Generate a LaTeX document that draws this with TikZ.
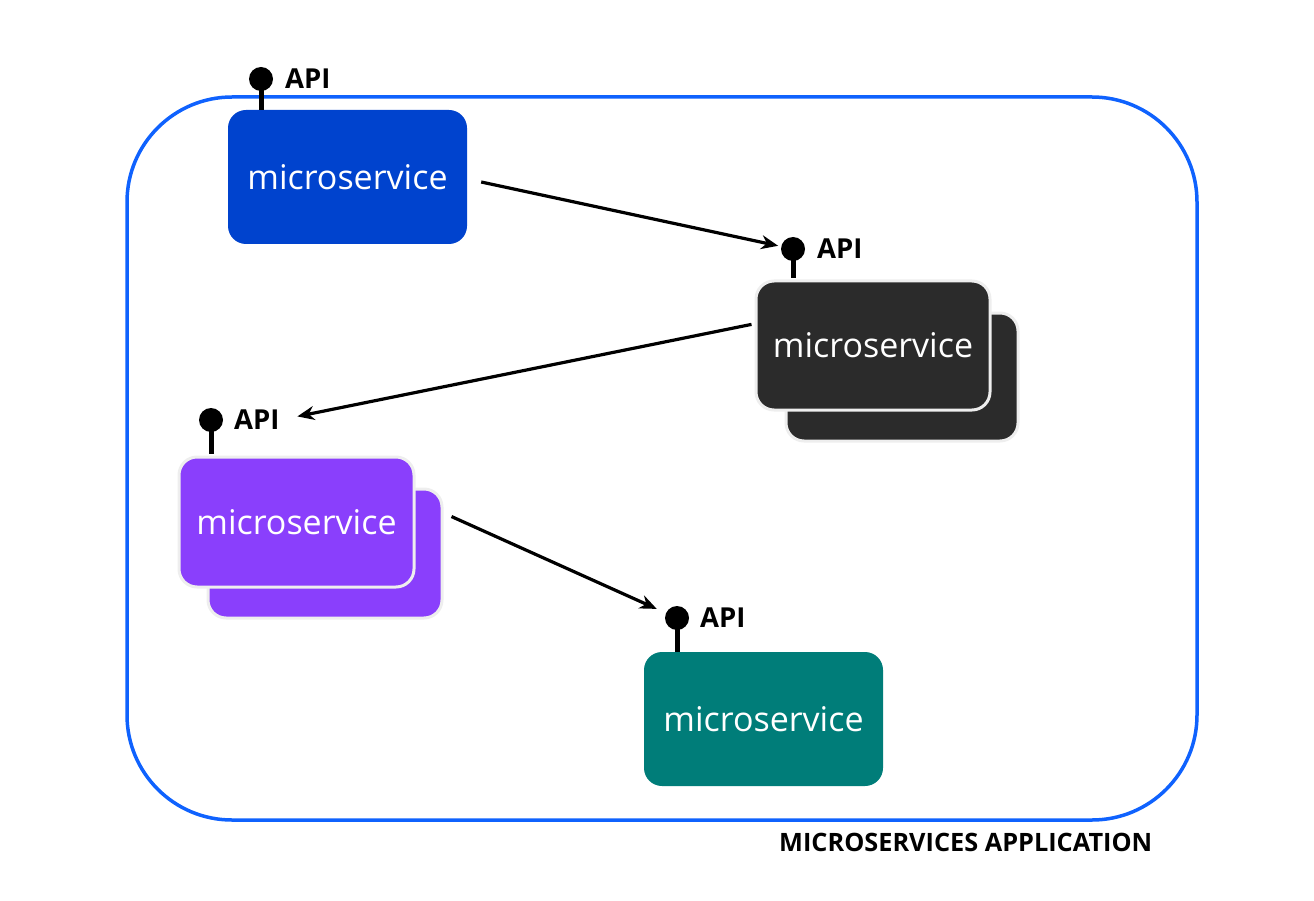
\documentclass[tikz,border=0pt]{standalone}
\usepackage{fontspec}
\setmainfont{Open Sans}
\usetikzlibrary{arrows.meta,calc}
\definecolor{appblue}{HTML}{0F62FE}
\definecolor{msblue}{HTML}{0043CE}
\definecolor{msdark}{HTML}{2B2B2B}
\definecolor{mspurple}{HTML}{8A3FFC}
\definecolor{msteal}{HTML}{007D79}
\definecolor{edgegrey}{HTML}{EEEEEE}
\tikzset{
  msbox/.style={rounded corners=18pt, minimum width=#1, text=white,
    font=\fontsize{34}{40}\selectfont, inner sep=0pt},
  lol/.style={circle, fill=black, minimum size=24pt, inner sep=0pt},
  stem/.style={line width=5pt, black},
  apilabel/.style={font=\bfseries\fontsize{27.5}{32}\selectfont, anchor=west, inner sep=0pt},
  arr/.style={line width=3.2pt, -{Stealth[length=17pt,width=14pt]}},
}
\begin{document}
\begin{tikzpicture}[x=1pt,y=-1pt]
\useasboundingbox (0,0) rectangle (1314,901);
% container
\draw[appblue, line width=3.5pt, rounded corners=105pt] (127,97) rectangle (1197,820);
\node[font=\bfseries\fontsize{25.3}{30}\selectfont, anchor=west, inner sep=0pt] (applbl) at (779,842) {MICROSERVICES APPLICATION};

% microservice 1 (blue)
\node[msbox=239pt, minimum height=134pt, fill=msblue] (ms1) at (347.5,177) {microservice};
\node[lol] (lol1) at (261,79) {};
\draw[stem] (lol1.center) -- (lol1.center |- ms1.north);
\node[apilabel] (api1) at (285,79) {API};

% microservice 2 (dark, stacked)
\node[msbox=232pt, minimum height=128pt, fill=msdark, draw=edgegrey, line width=3pt] (ms2b) at (902,377) {};
\node[msbox=234pt, minimum height=129pt, fill=msdark, draw=edgegrey, line width=3pt] (ms2) at (873,345.5) {microservice};
\node[lol] (lol2) at (793,249) {};
\draw[stem] (lol2.center) -- ([yshift=1.5pt]lol2.center |- ms2.north);
\node[apilabel] (api2) at (817,249) {API};

% microservice 3 (purple, stacked)
\node[msbox=234pt, minimum height=129pt, fill=mspurple, draw=edgegrey, line width=3pt] (ms3b) at (325,553.5) {};
\node[msbox=235pt, minimum height=130pt, fill=mspurple, draw=edgegrey, line width=3pt] (ms3) at (296.5,522) {microservice};
\node[lol] (lol3) at (211,420) {};
\draw[stem] (lol3.center) -- ([yshift=1.5pt]lol3.center |- ms3.north);
\node[apilabel] (api3) at (234,420) {API};

% microservice 4 (teal)
\node[msbox=239pt, minimum height=134pt, fill=msteal] (ms4) at (763.5,719) {microservice};
\node[lol] (lol4) at (677,618) {};
\draw[stem] (lol4.center) -- (lol4.center |- ms4.north);
\node[apilabel] (api4) at (700,618) {API};

% connectors
\draw[arr, shorten >=3pt] ($(ms1.east)+(14,5)$) -- (lol2);
\draw[arr, shorten >=18pt] ($(ms2.north west)!0.34!(ms2.south west)+(-3,0)$) -- (api3.east);
\draw[arr, shorten >=10pt] ($(ms3b.north east)!0.22!(ms3b.south east)+(8,0)$) -- (lol4);
\end{tikzpicture}
\end{document}
